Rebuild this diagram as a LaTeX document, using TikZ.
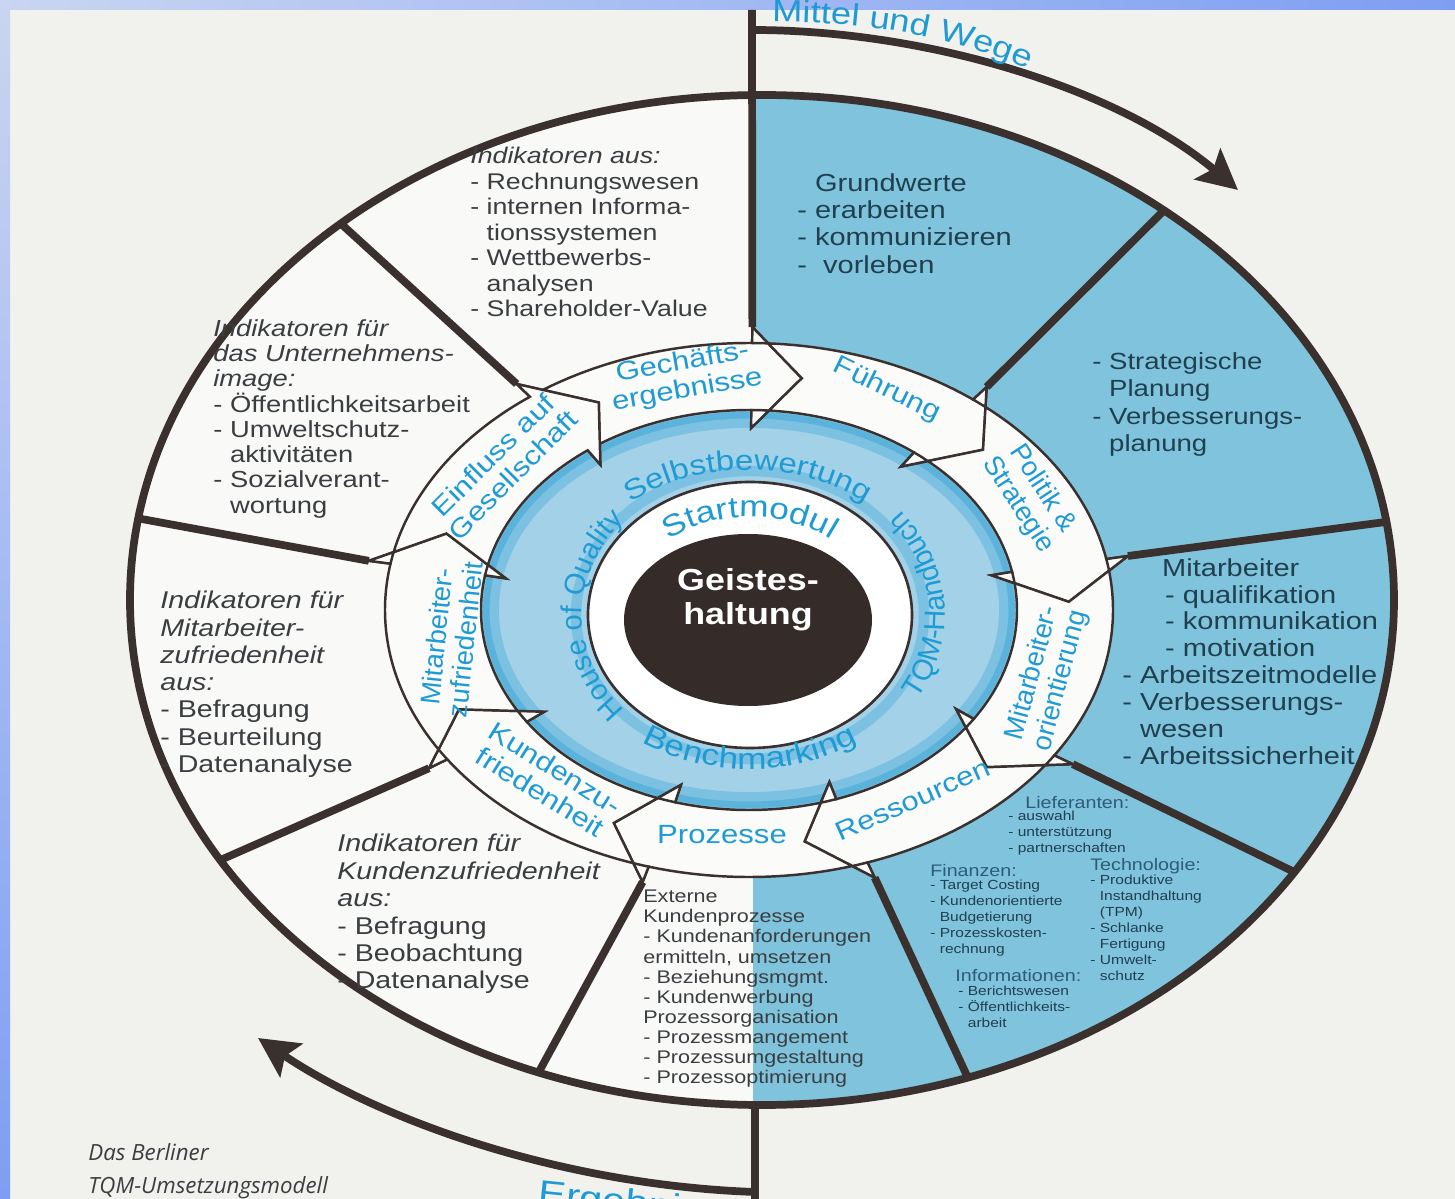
\documentclass[tikz,border=0pt]{standalone}
\usepackage{fontspec}
\setmainfont{Liberation Sans}[FakeStretch=1.18]
\newfontfamily\plainfont{Liberation Sans}
\newfontfamily\capfont{Open Sans}
\usetikzlibrary{arrows.meta,decorations.text}

\definecolor{paper}{HTML}{F1F1ED}
\definecolor{bandlight}{HTML}{C9D5F1}
\definecolor{banddark}{HTML}{7E9EF3}
\definecolor{sectorblue}{HTML}{7FC3DC}
\definecolor{lineink}{HTML}{3A302E}
\definecolor{ringcyan}{HTML}{1E9BD5}
\definecolor{ringfill}{HTML}{A3D2E8}
\definecolor{ringglow}{HTML}{34A3D4}
\definecolor{coreink}{HTML}{352B29}
\definecolor{textink}{HTML}{3A3E41}
\definecolor{blueink}{HTML}{21404F}
\definecolor{smallink}{HTML}{2E5C78}

\newcommand{\cont}{\phantom{- }}
\newcommand{\ringfont}{\fontsize{16}{18}\selectfont}
\newcommand{\bigringfont}{\fontsize{17}{19}\selectfont}
\newcommand{\sideringfont}{\plainfont\fontsize{16.5}{18}\selectfont}

\tikzset{
  divider/.style={draw=lineink, line width=4.4pt},
  flow/.style={draw=lineink, line width=4.4pt, -{Stealth[length=0.8cm, width=0.8cm, inset=0.15cm]}},
  arrowseg/.style={fill=white!70!paper, draw=lineink, line width=1.4pt, line join=miter},
  ringlabel/.style={text=ringcyan, font=\fontsize{15}{16}\selectfont, align=center, inner sep=0pt},
  sidelabel/.style={ringlabel, font=\plainfont\fontsize{15.5}{16.5}\selectfont},
  sectortext/.style={anchor=north west, align=left, inner sep=0pt, text=textink},
  bluetext/.style={sectortext, text=blueink},
  smallhead/.style={anchor=north west, inner sep=0pt, text=smallink, font=\fontsize{9.5}{11}\selectfont},
  smallitem/.style={anchor=north west, align=left, inner sep=0pt, text=blueink, font=\fontsize{7.5}{9.1}\selectfont},
}

\begin{document}
\begin{tikzpicture}[x=0.02cm, y=0.02cm]
  \useasboundingbox (0,0) rectangle (1455,-1199);

  %paper and frame
  \fill[paper] (0,0) rectangle (1455,-1199);
  \shade[left color=bandlight, right color=banddark] (0,0) rectangle (1455,-10);
  \shade[top color=bandlight, bottom color=banddark] (0,0) rectangle (10,-1199);

  %outer ellipse, right half blue
  \begin{scope}
    \clip (762,-600) ellipse[x radius=632, y radius=505];
    \fill[white!60!paper] (0,0) rectangle (753,-1199);
    \fill[sectorblue] (753,0) rectangle (1455,-1199);
  \end{scope}

  %divider coordinates: ring barb -> outer ellipse
  \foreach \n/\a/\p in {2/52/50.5, 3/11/8.9, 4/-33/-32.6, 5/-71/-71,
                        6/-106/-110.7, 7/-146/-149, 8/170/170.7, 9/127/131.8}{
    \coordinate (rb\n) at ({749+386*cos(\a)},{-610+283*sin(\a)});
    \coordinate (ob\n) at ({762+632*cos(\p)},{-600+505*sin(\p)});
  }
  \coordinate (rb1) at ({749+386*cos(89.5)},{-610+283*sin(89.5)});
  \coordinate (mtop) at (752,-10);
  \coordinate (obot) at (755,-1103);
  \coordinate (mbot) at (755,-1199);

  %draw dividers
  \foreach \n in {2,...,9}
    \draw[divider] (rb\n) -- (ob\n);
  \draw[divider] (mtop) -- (rb1);
  \draw[divider] (obot) -- (mbot);
  \draw[divider] (762,-600) ellipse[x radius=632, y radius=505];

  %flow arrows
  \coordinate (mw0) at (752,-30);
  \coordinate (mw1) at (1238,-190);
  \coordinate (eg0) at (755,-1192);
  \coordinate (eg1) at (258,-1038);
  \draw[flow] (mw0) .. controls (930,-30) and (1120,-90) .. (mw1);
  \draw[flow] (eg0) .. controls (560,-1185) and (380,-1120) .. (eg1);
  \path[decorate, decoration={text along path, text={|\fontsize{17.5}{19}\selectfont|Mittel und Wege},
        text color=ringcyan, text align=left}]
    (772,-22) .. controls (900,-22) and (1000,-45) .. (1110,-110);
  \node[anchor=north west, inner sep=0pt, rotate=-6, text=ringcyan,
        font=\fontsize{20}{22}\selectfont] (ergeb) at (540,-1179) {Ergebnisse};

  %inner rings
  \fill[ringfill] (749,-610) ellipse[x radius=268, y radius=200];
  \draw[ringglow, line width=9pt, opacity=0.35] (749,-610) ellipse[x radius=258, y radius=190];
  \draw[ringglow, line width=4pt, opacity=0.45] (749,-610) ellipse[x radius=263, y radius=195];
  \draw[ringglow, line width=6pt, opacity=0.35] (750,-615) ellipse[x radius=174, y radius=144];
  \fill[white] (750,-615) ellipse[x radius=162, y radius=133];
  \draw[lineink, line width=1.5pt] (750,-615) ellipse[x radius=162, y radius=133];
  \fill[coreink] (748,-620) ellipse[x radius=124, y radius=86];
  \node[text=white, align=center, font=\bfseries\fontsize{17.3}{19.3}\selectfont] (geist) at (748,-600) {Geistes-\\haltung};

  %curved labels of the inner ring
  \path[decorate, decoration={text along path, text={|\ringfont|Selbstbewertung}, text color=ringcyan, text align=center}]
    ({748+186*cos(145)},{-615+145*sin(145)}) arc[start angle=145, end angle=35, x radius=186, y radius=145];
  \path[decorate, decoration={text along path, text={|\bigringfont|Startmodul}, text color=ringcyan, text align=center}]
    ({750+127*cos(155)},{-615+98*sin(155)}) arc[start angle=155, end angle=25, x radius=127, y radius=98];
  \path[decorate, decoration={text along path, text={|\sideringfont|TQM-Handbuch}, text color=ringcyan, text align=center}]
    ({748+197*cos(-50)},{-615+165*sin(-50)}) arc[start angle=-50, end angle=58, x radius=197, y radius=165];
  \path[decorate, decoration={text along path, text={|\bigringfont|Benchmarking}, text color=ringcyan, text align=center}]
    ({750+192*cos(-150)},{-615+154*sin(-150)}) arc[start angle=-150, end angle=-30, x radius=192, y radius=154];
  \path[decorate, decoration={text along path, text={|\sideringfont|House of Quality}, text color=ringcyan, text align=center}]
    ({748+166*cos(245)},{-615+142*sin(245)}) arc[start angle=245, end angle=115, x radius=166, y radius=142];

  %arrow ring, one segment per step
  \foreach \pb/\b in {127/89.5, 89.5/52, 52/11, 11/-33, -33/-71, -71/-106, -106/-146, -146/-190, -190/-233}{
    \path[arrowseg]
      ({749+364*cos(\pb)},{-610+267*sin(\pb)})
      arc[start angle=\pb, end angle=\b, x radius=364, y radius=267]
      -- ({749+386*cos(\b)},{-610+283*sin(\b)})
      -- ({749+320*cos(\b-9)},{-610+235*sin(\b-9)})
      -- ({749+247*cos(\b)},{-610+182*sin(\b)})
      -- ({749+268*cos(\b)},{-610+200*sin(\b)})
      arc[start angle=\b, end angle=\pb, x radius=268, y radius=200]
      -- ({749+247*cos(\pb)},{-610+182*sin(\pb)})
      -- ({749+320*cos(\pb-9)},{-610+235*sin(\pb-9)})
      -- ({749+386*cos(\pb)},{-610+283*sin(\pb)})
      -- cycle;
  }

  %arrow labels
  \node[ringlabel, rotate=10] (lgesch) at (685,-377) {Gechäfts-\\ergebnisse};
  \node[ringlabel, rotate=-26] (lfuehr) at (887,-390) {Führung};
  \node[sidelabel, rotate=-57] (lpolit) at (1030,-497) {Politik \&\\Strategie};
  \node[sidelabel, rotate=75] (lmaor) at (1047,-677) {Mitarbeiter-\\orientierung};
  \node[ringlabel, rotate=24] (lress) at (913,-800) {Ressourcen};
  \node[ringlabel] (lproz) at (722,-835) {Prozesse};
  \node[ringlabel, rotate=-32] (lkunde) at (548,-780) {Kundenzu-\\friedenheit};
  \node[sidelabel, rotate=84] (lmazu) at (451,-638) {Mitarbeiter-\\zufriedenheit};
  \node[ringlabel, rotate=45] (leinfl) at (503,-465) {Einfluss auf\\Gesellschaft};

  %sector texts, left half
  \node[sectortext, font=\fontsize{12.9}{14.5}\selectfont] (kpi) at (470,-147)
    {\textit{Indikatoren aus:}\\- Rechnungswesen\\- internen Informa-\\\cont tionssystemen\\- Wettbewerbs-\\\cont analysen\\- Shareholder-Value};
  \node[sectortext, font=\fontsize{13.2}{14.4}\selectfont] (image) at (213,-319)
    {\textit{Indikatoren für}\\\textit{das Unternehmens-}\\\textit{image:}\\- Öffentlichkeitsarbeit\\- Umweltschutz-\\\cont aktivitäten\\- Sozialverant-\\\cont wortung};
  \node[sectortext, font=\fontsize{13.8}{15.5}\selectfont] (mazu) at (160,-591)
    {\textit{Indikatoren für}\\\textit{Mitarbeiter-}\\\textit{zufriedenheit}\\\textit{aus:}\\- Befragung\\- Beurteilung\\- Datenanalyse};
  \node[sectortext, font=\fontsize{13.8}{15.6}\selectfont] (kuzu) at (337,-834)
    {\textit{Indikatoren für}\\\textit{Kundenzufriedenheit}\\\textit{aus:}\\- Befragung\\- Beobachtung\\- Datenanalyse};
  \node[sectortext, font=\fontsize{10.4}{11.4}\selectfont] (extern) at (643,-890)
    {Externe\\Kundenprozesse\\- Kundenanforderungen\\ermitteln, umsetzen\\- Beziehungsmgmt.\\- Kundenwerbung\\Prozessorganisation\\- Prozessmangement\\- Prozessumgestaltung\\- Prozessoptimierung};

  %sector texts, right half
  \node[bluetext, font=\fontsize{14}{15.6}\selectfont] (grund) at (797,-173)
    {\cont Grundwerte\\- erarbeiten\\- kommunizieren\\-\ \ vorleben};
  \node[bluetext, font=\fontsize{13.3}{15.6}\selectfont] (strat) at (1092,-352)
    {- Strategische\\\cont Planung\\- Verbesserungs-\\\cont planung};
  \node[bluetext, font=\fontsize{14}{15.3}\selectfont] (mitarb) at (1122,-558)
    {\hspace{22.7pt}Mitarbeiter\\\hspace{24.4pt}- qualifikation\\\hspace{24.4pt}- kommunikation\\\hspace{24.4pt}- motivation\\- Arbeitszeitmodelle\\- Verbesserungs-\\\cont wesen\\- Arbeitssicherheit};

  %resources sector
  \node[smallhead] (lief) at (1025,-796) {Lieferanten:};
  \node[smallitem] (liefl) at (1008,-811) {- auswahl\\- unterstützung\\- partnerschaften};
  \node[smallhead] (fin) at (930,-864) {Finanzen:};
  \node[smallitem] (finl) at (930,-880) {- Target Costing\\- Kundenorientierte\\\cont Budgetierung\\- Prozesskosten-\\\cont rechnung};
  \node[smallhead] (tech) at (1090,-858) {Technologie:};
  \node[smallitem] (techl) at (1090,-875) {- Produktive\\\cont Instandhaltung\\\cont (TPM)\\- Schlanke\\\cont Fertigung\\- Umwelt-\\\cont schutz};
  \node[smallhead] (info) at (955,-969) {Informationen:};
  \node[smallitem] (infol) at (958,-986) {- Berichtswesen\\- Öffentlichkeits-\\\cont arbeit};

  %caption
  \node[anchor=north west, align=left, inner sep=0pt, text=textink,
        font=\capfont\itshape\fontsize{12.7}{18.7}\selectfont] (caption) at (88,-1143)
    {Das Berliner\\TQM-Umsetzungsmodell};
\end{tikzpicture}
\end{document}
